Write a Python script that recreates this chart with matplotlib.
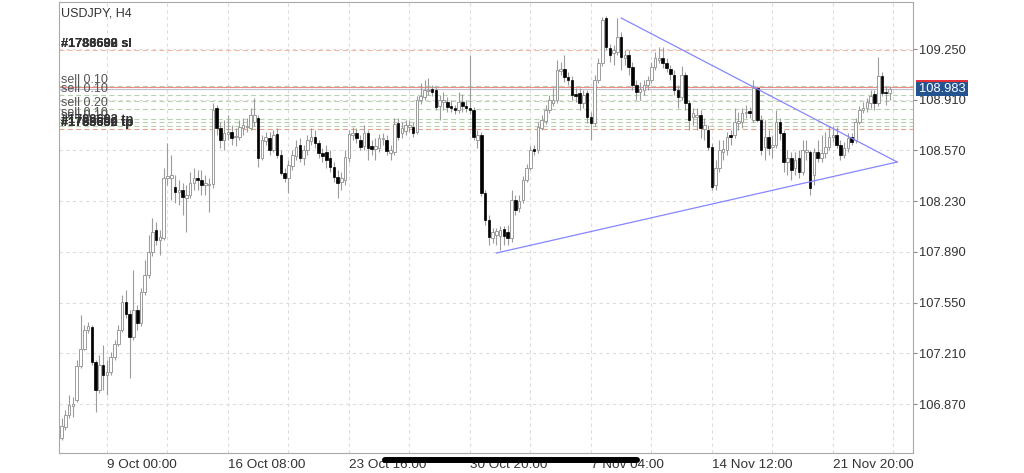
import numpy as np
import matplotlib
matplotlib.use("Agg")
import matplotlib.pyplot as plt
from matplotlib.lines import Line2D
from matplotlib.patches import Rectangle

plt.rcParams['font.family'] = ['Liberation Sans', 'DejaVu Sans']

# ---------------- data (USDJPY H4) ----------------
opens = [
 106.643,106.717,106.798,106.858,106.898,107.126,107.240,107.367,107.387,107.153,
 106.965,107.132,107.066,107.086,107.186,107.273,107.367,107.555,107.475,107.320,
 107.501,107.414,107.622,107.736,107.890,108.037,107.970,107.983,108.385,108.385,
 108.325,108.292,108.305,108.251,108.272,108.352,108.385,108.372,108.339,108.339,
 108.345,108.854,108.720,108.640,108.680,108.694,108.660,108.660,108.720,108.727,
 108.720,108.761,108.787,108.519,108.633,108.653,108.573,108.680,108.540,108.419,
 108.385,108.466,108.533,108.607,108.519,108.573,108.633,108.660,108.620,108.553,
 108.560,108.519,108.459,108.392,108.359,108.372,108.519,108.673,108.687,108.640,
 108.600,108.687,108.600,108.580,108.586,108.647,108.640,108.553,108.560,108.754,
 108.687,108.700,108.727,108.727,108.694,108.908,108.928,108.968,108.982,108.975,
 108.868,108.895,108.895,108.868,108.854,108.841,108.895,108.868,108.854,108.841,
 108.640,108.673,108.285,108.104,107.983,108.004,107.997,108.044,108.024,107.983,
 108.238,108.184,108.238,108.372,108.452,108.580,108.573,108.720,108.767,108.841,
 108.888,108.908,109.102,109.116,109.062,109.042,108.948,108.955,108.888,108.955,
 108.794,108.754,109.042,109.156,109.457,109.256,109.223,109.230,109.330,109.189,
 109.210,109.129,109.008,108.962,108.975,109.008,109.042,109.129,109.176,109.189,
 109.156,109.116,109.076,108.975,108.928,109.076,108.888,108.794,108.794,108.808,
 108.714,108.707,108.593,108.339,108.452,108.560,108.573,108.673,108.673,108.754,
 108.761,108.821,108.834,108.774,108.988,108.774,108.593,108.660,108.593,108.607,
 108.761,108.687,108.493,108.519,108.452,108.519,108.426,108.560,108.560,108.406,
 108.560,108.519,108.553,108.593,108.660,108.673,108.607,108.540,108.586,108.660,
 108.640,108.761,108.841,108.854,108.888,108.948,108.888,109.069,108.962,108.955,
]
highs = [
 106.777,106.831,106.931,106.918,107.166,107.468,107.400,107.421,107.400,107.166,
 107.200,107.267,107.166,107.220,107.300,107.400,107.602,107.635,107.501,107.769,
 107.535,107.648,107.836,108.004,108.117,108.091,108.037,108.452,108.620,108.540,
 108.406,108.372,108.352,108.339,108.426,108.452,108.439,108.439,108.406,108.385,
 108.888,108.874,108.761,108.774,108.808,108.740,108.720,108.774,108.787,108.787,
 108.854,108.921,108.808,108.673,108.694,108.694,108.707,108.720,108.573,108.452,
 108.506,108.573,108.640,108.653,108.607,108.673,108.720,108.707,108.640,108.586,
 108.607,108.573,108.493,108.439,108.426,108.573,108.707,108.727,108.720,108.673,
 108.740,108.707,108.640,108.653,108.680,108.687,108.673,108.607,108.787,108.787,
 108.761,108.774,108.774,108.761,108.935,109.022,109.042,109.055,109.008,109.002,
 108.942,108.962,108.928,108.908,108.874,108.962,108.948,108.908,109.210,108.861,
 108.707,108.694,108.305,108.138,108.050,108.050,108.064,108.064,108.071,108.305,
 108.272,108.272,108.399,108.479,108.600,108.607,108.761,108.808,108.874,108.942,
 108.988,109.176,109.163,109.210,109.096,109.069,108.988,108.988,108.975,108.975,
 108.828,109.076,109.189,109.464,109.471,109.283,109.277,109.457,109.364,109.243,
 109.243,109.163,109.042,109.029,109.042,109.069,109.163,109.230,109.263,109.263,
 109.189,109.143,109.109,109.008,109.136,109.096,108.908,108.854,108.854,108.841,
 108.787,108.740,108.620,108.506,108.640,108.640,108.694,108.707,108.854,108.828,
 108.854,108.874,108.861,109.042,109.002,108.808,108.774,108.707,108.673,108.841,
 108.787,108.707,108.573,108.560,108.560,108.573,108.640,108.640,108.573,108.586,
 108.640,108.673,108.694,108.734,108.734,108.727,108.640,108.627,108.687,108.687,
 108.787,108.868,108.895,108.921,108.975,108.975,109.196,109.096,109.002,109.002,
]
lows = [
 106.630,106.697,106.777,106.784,106.885,107.112,107.233,107.347,107.132,106.818,
 106.945,106.965,106.931,107.066,107.166,107.260,107.354,107.448,107.045,107.300,
 107.367,107.394,107.602,107.715,107.863,107.937,107.870,107.970,108.339,108.238,
 108.218,108.205,108.138,108.024,108.251,108.305,108.305,108.272,108.272,108.158,
 108.318,108.673,108.586,108.573,108.640,108.607,108.600,108.640,108.673,108.694,
 108.707,108.734,108.459,108.506,108.607,108.540,108.560,108.519,108.406,108.359,
 108.285,108.439,108.506,108.493,108.473,108.540,108.607,108.586,108.519,108.493,
 108.452,108.426,108.359,108.251,108.305,108.339,108.493,108.640,108.620,108.573,
 108.573,108.506,108.540,108.506,108.560,108.607,108.540,108.506,108.540,108.640,
 108.653,108.673,108.694,108.660,108.680,108.881,108.908,108.942,108.935,108.841,
 108.774,108.841,108.828,108.828,108.814,108.821,108.828,108.828,108.814,108.640,
 108.586,108.265,108.071,107.937,107.950,107.937,107.903,107.937,107.937,107.957,
 108.138,108.158,108.218,108.359,108.439,108.540,108.553,108.707,108.747,108.821,
 108.868,108.888,109.076,109.029,109.008,108.908,108.895,108.841,108.854,108.754,
 108.640,108.734,109.022,109.136,109.243,109.163,109.143,109.210,109.109,109.143,
 109.076,108.975,108.908,108.908,108.942,108.975,109.022,109.109,109.156,109.122,
 109.096,109.042,108.942,108.854,108.908,108.841,108.707,108.740,108.707,108.653,
 108.640,108.573,108.305,108.305,108.426,108.506,108.540,108.607,108.653,108.707,
 108.720,108.787,108.787,108.761,108.761,108.540,108.506,108.540,108.519,108.586,
 108.640,108.426,108.406,108.372,108.406,108.385,108.406,108.506,108.272,108.339,
 108.493,108.493,108.519,108.573,108.627,108.586,108.506,108.519,108.560,108.607,
 108.620,108.747,108.821,108.828,108.854,108.841,108.868,108.935,108.874,108.908,
]
closes = [
 106.724,106.798,106.865,106.871,107.126,107.240,107.367,107.394,107.153,106.965,
 107.132,107.066,107.086,107.186,107.273,107.367,107.555,107.475,107.320,107.501,
 107.414,107.622,107.736,107.890,108.024,107.970,107.990,108.385,108.399,108.406,
 108.292,108.305,108.258,108.272,108.352,108.385,108.372,108.339,108.352,108.345,
 108.841,108.720,108.640,108.687,108.694,108.653,108.667,108.727,108.740,108.734,
 108.808,108.808,108.519,108.640,108.660,108.573,108.673,108.540,108.419,108.385,
 108.473,108.540,108.593,108.519,108.573,108.640,108.660,108.620,108.553,108.533,
 108.506,108.459,108.392,108.352,108.385,108.526,108.680,108.687,108.653,108.593,
 108.687,108.586,108.580,108.600,108.653,108.653,108.566,108.573,108.747,108.660,
 108.720,108.740,108.740,108.687,108.908,108.935,108.975,108.975,108.962,108.861,
 108.908,108.908,108.861,108.854,108.841,108.895,108.868,108.854,108.841,108.660,
 108.673,108.285,108.104,107.990,108.024,108.030,108.037,107.997,107.983,108.238,
 108.171,108.231,108.372,108.452,108.573,108.566,108.727,108.774,108.841,108.908,
 108.908,109.109,109.116,109.062,109.042,108.942,108.935,108.888,108.942,108.794,
 108.754,109.042,109.156,109.444,109.263,109.210,109.243,109.330,109.196,109.210,
 109.129,109.008,108.962,108.982,109.008,109.042,109.129,109.189,109.189,109.156,
 109.122,109.082,108.975,108.928,109.076,108.888,108.774,108.821,108.808,108.720,
 108.740,108.593,108.325,108.452,108.573,108.580,108.660,108.660,108.761,108.767,
 108.821,108.828,108.821,108.988,108.774,108.573,108.660,108.586,108.607,108.761,
 108.687,108.493,108.519,108.439,108.506,108.426,108.573,108.573,108.318,108.560,
 108.519,108.553,108.593,108.660,108.673,108.607,108.540,108.586,108.653,108.627,
 108.761,108.841,108.854,108.895,108.935,108.888,109.069,108.955,108.955,108.983,
]

symbol_title = "USDJPY, H4"
price_ticks = [106.870, 107.210, 107.550, 107.890, 108.230, 108.570, 108.910, 109.250]
date_tick_bars = [12, 44, 76, 108, 140, 172, 204]
date_tick_labels = ["9 Oct 00:00", "16 Oct 08:00", "23 Oct 16:00", "30 Oct 20:00",
                    "7 Nov 04:00", "14 Nov 12:00", "21 Nov 20:00"]
grid_bars = [12, 28, 44, 60, 76, 92, 108, 124, 140, 156, 172, 188, 204, 220]

bid_price = 108.983
ask_price = 108.993
sl_levels = [109.243]
tp_levels = [108.714]
order_levels = [109.002, 108.942, 108.903, 108.851, 108.781, 108.761, 108.737]

# trend lines: (bar index, price) anchors
trend_upper_bars = [148, 221]
trend_upper_prices = [109.458, 108.493]
trend_lower_bars = [115, 221]
trend_lower_prices = [107.883, 108.493]

# ---------------- figure ----------------
W, H = 1024, 473
fig = plt.figure(figsize=(W / 100, H / 100), dpi=100)
fig.patch.set_facecolor('white')
L, R, T, B = 59, 913, 2, 453
ax = fig.add_axes([L / W, 1 - B / H, (R - L) / W, (B - T) / H])
ax.set_facecolor('white')

o = np.array(opens); h = np.array(highs); l = np.array(lows); c = np.array(closes)
x = np.arange(len(c))
ax.set_xlim(-0.69, 225.2)
ax.set_ylim(106.543, 109.565)

# grid
grid_col = '#dddddd'
for g in grid_bars:
    ax.axvline(g, color=grid_col, lw=0.8, ls=(0, (3, 3)), zorder=0)
for v in price_ticks:
    ax.axhline(v, color=grid_col, lw=0.8, ls=(0, (3, 3)), zorder=0)

# order lines
for v in order_levels:
    ax.axhline(v, color='#b6d2ae', lw=0.8, ls=(0, (4.5, 3)), zorder=1)
for v in sl_levels:
    ax.axhline(v, color='#f6b8a8', lw=0.8, ls=(0, (4.5, 3)), zorder=1)
for v in tp_levels:
    ax.axhline(v, color='#e3a283', lw=0.8, ls=(0, (4.5, 3)), zorder=1)
ax.axhline(ask_price, color='#f08a8a', lw=0.8, zorder=1)
ax.axhline(bid_price, color='#b8c0cf', lw=0.8, zorder=1)

# candles
up = c >= o
wick_col = '#9c9c9c'
ax.vlines(x, l, h, color=wick_col, lw=0.8, zorder=2)
bb = np.minimum(o, c)
bh = np.maximum(np.abs(c - o), 0.004)
ax.bar(x[up], bh[up], bottom=bb[up], width=0.68, color='white',
       edgecolor=wick_col, linewidth=0.7, zorder=3)
ax.bar(x[~up], bh[~up], bottom=bb[~up], width=0.68, color='black',
       edgecolor='black', linewidth=0.5, zorder=3)

# trend lines
tl_col = '#8686ff'
ax.plot(trend_upper_bars, trend_upper_prices, color=tl_col, lw=0.9, zorder=4)
ax.plot(trend_lower_bars, trend_lower_prices, color=tl_col, lw=0.9, zorder=4)

# order labels
yt = ax.get_yaxis_transform()
def lab(level, s, bold=False, col='#555555', size=9.0):
    ax.text(0.002, level - 0.002, s, transform=yt, ha='left', va='bottom',
            fontsize=size, color=col, fontweight='bold' if bold else 'normal', zorder=5)

lab(sl_levels[0], "#1788692 sl", bold=True, col='#333333', size=9.2)
lab(sl_levels[0], "#1786688 sl", bold=True, col='#333333', size=9.2)
lab(sl_levels[0], "#1783690 sl", bold=True, col='#333333', size=9.2)
lab(order_levels[0], "sell 0.10")
lab(order_levels[1], "sell 0.10")
lab(order_levels[3], "sell 0.20")
lab(order_levels[4], "sell 0.10")
lab(order_levels[5], "sell 0.10")
lab(order_levels[6], "#1788692 tp", bold=True, col='#333333', size=9.2)
lab(tp_levels[0], "#1788692 tp", bold=True, col='#333333', size=9.2)
lab(tp_levels[0], "#1785689 tp", bold=True, col='#333333', size=9.2)
lab(tp_levels[0], "#1763690 tp", bold=True, col='#333333', size=9.2)

# title
fig.text(61 / W, 1 - 13 / H, symbol_title, ha='left', va='center',
         fontsize=9.0, color='#333333')

# axes styling
for sp in ax.spines.values():
    sp.set_color('#a9a9a9')
    sp.set_linewidth(0.8)
ax.yaxis.tick_right()
ax.set_yticks(price_ticks)
ax.set_yticklabels([f"{v:.3f}" for v in price_ticks])
ax.tick_params(axis='y', length=3, width=0.8, color='#8a8a8a', pad=1.5,
               labelsize=9.3, labelcolor='#333333')
ax.set_xticks(date_tick_bars)
ax.set_xticklabels(date_tick_labels)
ax.tick_params(axis='x', length=0, pad=4.0, labelsize=9.7, labelcolor='#333333')
for t in ax.get_xticklabels():
    t.set_ha('left')

# price labels (ask behind, bid in front)
box_w = 0.061
ax.add_patch(Rectangle((1.0035, ask_price - 0.047), box_w, 0.094, transform=yt,
                       facecolor='#e8303a', edgecolor='none', clip_on=False, zorder=6))
ax.add_patch(Rectangle((1.0035, bid_price - 0.047), box_w, 0.094, transform=yt,
                       facecolor='#24548f', edgecolor='none', clip_on=False, zorder=7))
ax.text(1.0035 + box_w / 2, bid_price, f"{bid_price:.3f}", transform=yt,
        ha='center', va='center', fontsize=9.3, color='white', zorder=8, clip_on=False)

# bottom overlay bar
fig.add_artist(Line2D([385 / W, 637 / W], [1 - 460 / H] * 2, lw=4.3, color='black',
                      solid_capstyle='round', transform=fig.transFigure, zorder=10))

fig.savefig("out.png", dpi=100, facecolor='white')
